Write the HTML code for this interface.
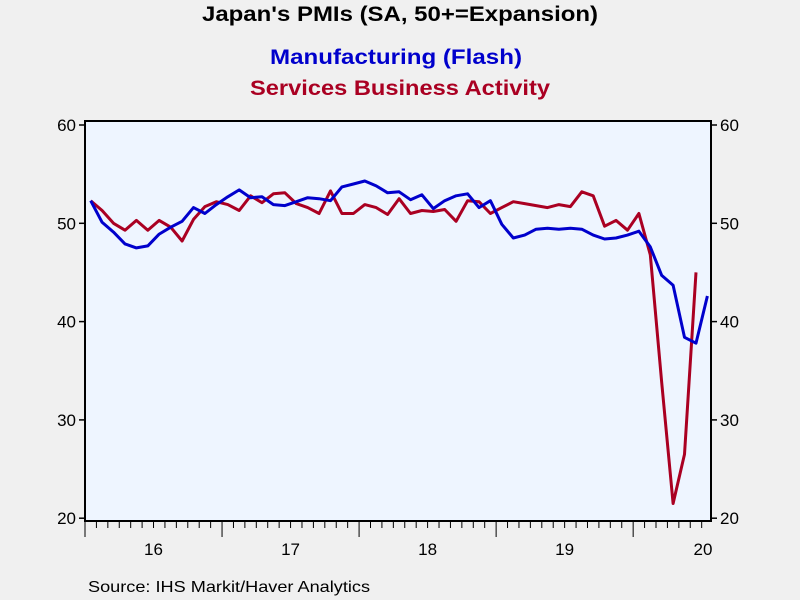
<!DOCTYPE html>
<html><head><meta charset="utf-8"><style>
body{margin:0;background:#f0f0f0;}
svg{display:block;font-family:"Liberation Sans",Arial,sans-serif;}
</style></head><body>
<svg id="chart" width="800" height="600">
<rect x="0" y="0" width="800" height="600" fill="#f0f0f0"/>
<text x="202" y="21" textLength="396" lengthAdjust="spacingAndGlyphs" font-size="21" font-weight="bold" fill="#000">Japan's PMIs (SA, 50+=Expansion)</text>
<text x="270" y="64" textLength="252" lengthAdjust="spacingAndGlyphs" font-size="21" font-weight="bold" fill="#0000cc">Manufacturing (Flash)</text>
<text x="250" y="95" textLength="300" lengthAdjust="spacingAndGlyphs" font-size="21" font-weight="bold" fill="#aa0022">Services Business Activity</text>
<rect x="85" y="121" width="626" height="400" fill="#eef5ff" stroke="#000" stroke-width="2"/>
<g id="axes"></g>
<g id="series"></g>
<text x="88" y="592" textLength="282" lengthAdjust="spacingAndGlyphs" font-size="16" fill="#000">Source:  IHS Markit/Haver Analytics</text>
</svg>
<script>
const yTicks=[20,30,40,50,60];
const yearLabels=["16","17","18","19","20"];
const manufacturing=[52.3,50.1,49.1,47.9,47.5,47.7,48.9,49.6,50.2,51.6,51.0,51.9,52.7,53.4,52.6,52.7,51.9,51.8,52.2,52.6,52.5,52.3,53.7,54.0,54.3,53.8,53.1,53.2,52.4,52.9,51.5,52.3,52.8,53.0,51.6,52.3,49.9,48.5,48.8,49.4,49.5,49.4,49.5,49.4,48.8,48.4,48.5,48.8,49.2,47.6,44.7,43.7,38.4,37.8,42.6];
const services=[52.3,51.3,50.0,49.3,50.3,49.3,50.3,49.6,48.2,50.4,51.7,52.2,51.9,51.3,52.8,52.1,53.0,53.1,52.0,51.6,51.0,53.3,51.0,51.0,51.9,51.6,50.9,52.5,51.0,51.3,51.2,51.4,50.2,52.3,52.2,51.0,51.6,52.2,52.0,51.8,51.6,51.9,51.7,53.2,52.8,49.7,50.3,49.3,51.0,46.8,33.8,21.5,26.5,45.0];
const NS="http://www.w3.org/2000/svg";
const L=85,R=711,T=121,B=521,MW=11.42;
function xPos(i){return L+(i+0.5)*MW;}
function yPos(v){return 125+(60-v)*9.83;}
const axes=document.getElementById('axes'),ser=document.getElementById('series');
function mk(tag,attrs,parent){const e=document.createElementNS(NS,tag);for(const k in attrs)e.setAttribute(k,attrs[k]);parent.appendChild(e);return e;}
yTicks.forEach(v=>{
  const y=yPos(v);
  const t1=mk('line',{x1:L-6,x2:L,y1:y,y2:y,stroke:'#000','stroke-width':1.5},axes);
  
  
  const t2=mk('line',{x1:R,x2:R+6,y1:y,y2:y,stroke:'#000','stroke-width':1.5},axes);
  
  
  const a=mk('text',{x:L-9,y:y+6,'text-anchor':'end','font-size':17},axes);a.textContent=v;
  
  
  const b=mk('text',{x:R+9,y:y+6,'text-anchor':'start','font-size':17},axes);b.textContent=v;
  
  
});
for(let m=0;m<=54;m++){
  const x=L+m*MW; if(x>R+1)break;
  const major=m%12===0;
  const t=mk('line',{x1:x,x2:x,y1:B,y2:B+(major?16:7),stroke:'#000','stroke-width':1},axes);
  
  
}
yearLabels.forEach((lab,k)=>{
  let x=L+(k*12+6)*MW; if(k===4)x=703;
  const t=mk('text',{x:x,y:555,'text-anchor':'middle','font-size':17},axes);t.textContent=lab;
  
  
});
function line(data,color,name){
  const d=data.map((v,i)=>(i?'L':'M')+xPos(i).toFixed(1)+' '+yPos(v).toFixed(1)).join(' ');
  const p=mk('path',{d:d,fill:'none',stroke:color,'stroke-width':3,'stroke-linejoin':'round'},ser);
  
  
}
line(services,'#aa0022','services-line');
line(manufacturing,'#0000cc','manufacturing-line');
</script>
</body></html>
